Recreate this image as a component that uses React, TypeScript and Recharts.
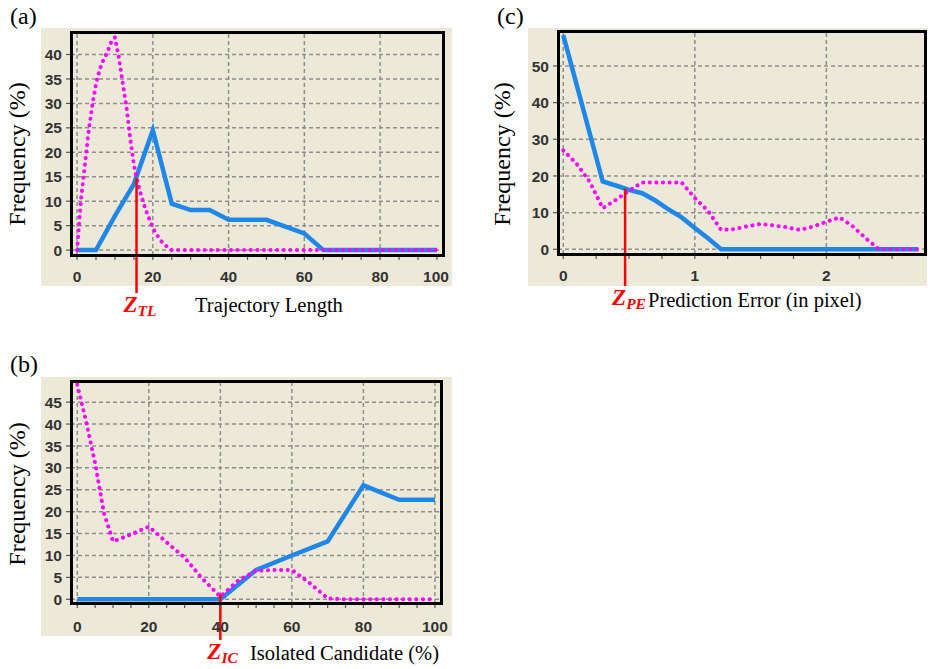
import React from "react";
import { CartesianGrid, Line, LineChart, ReferenceLine, XAxis, YAxis } from "recharts";

// (a) trajectory length
const tlBlueX = [0, 5, 10, 15, 20, 25, 30, 35, 40, 45, 50, 55, 60, 65, 70, 75, 80, 85, 90, 95];
const tlBlueY = [0, 0, 7, 13.5, 24.5, 9.5, 8.2, 8.2, 6.2, 6.2, 6.2, 4.8, 3.4, 0, 0, 0, 0, 0, 0, 0];
const tlPinkX = [0, 0.5, 1, 2, 3, 4, 5, 6, 7, 8, 9, 10, 11, 12, 13, 14, 15, 16, 17, 18, 19, 20, 22, 24, 25, 30, 35, 40, 45, 50, 55, 60, 65, 70, 75, 80, 85, 90, 95];
const tlPinkY = [0, 5, 10, 17, 24, 29.5, 34, 37, 39, 40.5, 42.5, 43.5, 39.5, 34.5, 29.5, 23, 17.5, 13.8, 11, 8.5, 6.5, 4.5, 2, 0.5, 0, 0, 0, 0, 0, 0, 0, 0, 0, 0, 0, 0, 0, 0, 0];
const tlLabelsX = [0, 20, 40, 60, 80, 100];
const tlTicksX = [0, 5, 10, 15, 20, 25, 30, 35, 40, 45, 50, 55, 60, 65, 70, 75, 80, 85, 90, 95, 100];
const tlTicksY = [0, 5, 10, 15, 20, 25, 30, 35, 40];
const tlGridX = [0, 20, 40, 60, 80];
const tlZ = { x: 15.7, top: 14.7, bottom: -8.8 };

// (b) isolated candidate
const icBlueX = [0, 10, 20, 30, 40, 50, 60, 70, 80, 90, 100];
const icBlueY = [0, 0, 0, 0, 0, 6.7, 10, 13.2, 26, 22.7, 22.7];
const icPinkX = [0, 2.5, 5, 7.5, 10, 15, 20, 25, 30, 35, 40, 45, 50, 55, 60, 65, 70, 75, 80, 85, 90, 95, 100];
const icPinkY = [49, 40.5, 31, 19.5, 13.2, 14.8, 16.6, 13, 9.5, 4.7, 0.6, 4.3, 6.5, 6.7, 6.7, 3.7, 0.2, 0, 0, 0, 0, 0, 0];
const icLabelsX = [0, 20, 40, 60, 80, 100];
const icTicksX = [0, 5, 10, 15, 20, 25, 30, 35, 40, 45, 50, 55, 60, 65, 70, 75, 80, 85, 90, 95, 100];
const icTicksY = [0, 5, 10, 15, 20, 25, 30, 35, 40, 45];
const icZ = { x: 40, top: 1, bottom: -9.3 };

// (c) prediction error
const peBlueX = [0, 0.3, 0.4, 0.5, 0.6, 0.7, 0.8, 0.9, 1.0, 1.1, 1.2, 1.3, 1.4, 1.5, 1.6, 1.7, 1.8, 1.9, 2.0, 2.1, 2.2, 2.3, 2.4, 2.5, 2.6, 2.7];
const peBlueY = [58.4, 18.5, 17.4, 16.2, 15.3, 13.3, 10.9, 8.7, 5.8, 3, 0, 0, 0, 0, 0, 0, 0, 0, 0, 0, 0, 0, 0, 0, 0, 0];
const pePinkX = [0, 0.1, 0.2, 0.3, 0.4, 0.5, 0.6, 0.7, 0.8, 0.9, 1.0, 1.1, 1.2, 1.3, 1.4, 1.5, 1.6, 1.7, 1.8, 1.9, 2.0, 2.1, 2.2, 2.3, 2.4, 2.5, 2.6, 2.7];
const pePinkY = [27, 23.4, 18.5, 11.2, 13.5, 16, 18.2, 18.2, 18.2, 18.2, 14, 10.5, 5.3, 5.5, 6.3, 6.9, 6.5, 6, 5.3, 6.2, 7.5, 8.7, 6.3, 3, 0, 0, 0, 0];
const peLabelsX = [0, 1, 2];
const peTicksX = [0, 0.25, 0.5, 0.75, 1, 1.25, 1.5, 1.75, 2, 2.25, 2.5];
const peTicksY = [0, 10, 20, 30, 40, 50];
const peZ = { x: 0.47, top: 16.5, bottom: -10 };

const SERIF = '"Liberation Serif", "Times New Roman", serif';
const SANS = '"Liberation Sans", Arial, sans-serif';
const BEIGE = "#ece9d8";
const GRID = "#8e8e8e";
const TICK_TEXT = { fontFamily: SANS, fontSize: 15.5, fontWeight: 600, fill: "#333" };

type Pt = { x: number; y: number };
const pts = (xs: number[], ys: number[]): Pt[] => xs.map((x, i) => ({ x, y: ys[i] }));

function XTick(props: any) {
  const { x, y, payload, maxX, gap, labels } = props;
  const tx = Math.min(x, maxX);
  const showLabel = labels.includes(payload.value);
  return (
    <g>
      {x <= maxX + 10 && <line x1={x} x2={x} y1={y - gap - 3} y2={y - gap + 1} stroke="#555" strokeWidth={1.2} />}
      {showLabel && (
        <text x={tx} y={y} dy="0.71em" textAnchor="middle" {...TICK_TEXT}>
          {payload.value}
        </text>
      )}
    </g>
  );
}

function YTick(props: any) {
  const { x, y, payload } = props;
  return (
    <g>
      <line x1={x + 4} x2={x + 8} y1={y} y2={y} stroke="#555" strokeWidth={1.2} />
      <text x={x} y={y} dy="0.36em" textAnchor="end" {...TICK_TEXT}>
        {payload.value}
      </text>
    </g>
  );
}

type PanelProps = {
  left: number;
  top: number;
  width: number;
  height: number;
  mTop: number;
  mRight: number;
  yWidth: number;
  xHeight: number;
  xDomain: [number, number];
  yDomain: [number, number];
  xTicks: number[];
  xLabels: number[];
  yTicks: number[];
  gridX: number[];
  blue: Pt[];
  pink: Pt[];
  z: { x: number; top: number; bottom: number };
  sub: string;
  title: string;
  titleDx: number;
  titleDy: number;
  tickGap: number;
  maxTickX: number;
  yLabelX: number;
  yLabelDy: number;
};

const bar = (left: number, top: number, width: number, height: number) => (
  <div style={{ position: "absolute", left, top, width, height, background: "#000", zIndex: 5, pointerEvents: "none" }} />
);

function Panel(p: PanelProps) {
  // black frame round the plot area, taken from the chart margins
  const x0 = p.left + p.yWidth;
  const y0 = p.top + p.mTop;
  const w = p.width - p.mRight - p.yWidth;
  const h = p.height - p.mTop - p.xHeight;
  const t = 3;
  return (
    <>
      <div style={{ position: "absolute", left: p.left, top: p.top, zIndex: 1 }}>
        <LineChart width={p.width} height={p.height} margin={{ top: p.mTop, right: p.mRight, left: 0, bottom: 0 }}>
          <CartesianGrid vertical={false} stroke={GRID} strokeDasharray="4 3" strokeWidth={1.5} />
          {p.gridX.map((v) => (
            <ReferenceLine key={v} x={v} stroke={GRID} strokeDasharray="4 3" strokeWidth={1.5} />
          ))}
          <XAxis
            dataKey="x"
            type="number"
            domain={p.xDomain}
            allowDataOverflow
            ticks={p.xTicks}
            interval={0}
            height={p.xHeight}
            tickSize={4}
            tickMargin={p.tickGap}
            tickLine={false}
            axisLine={false}
            tick={<XTick maxX={p.maxTickX} gap={p.tickGap} labels={p.xLabels} />}
            label={{
              content: (lp: any) => {
                const vb = lp.viewBox;
                return (
                  <text x={vb.x + p.titleDx} y={vb.y + p.titleDy} fontFamily={SERIF} fontSize={20.5} fill="#000">
                    {p.title}
                  </text>
                );
              },
            }}
          />
          <YAxis
            type="number"
            domain={p.yDomain}
            allowDataOverflow
            ticks={p.yTicks}
            interval={0}
            width={p.yWidth}
            tickSize={4}
            tickMargin={5}
            tickLine={false}
            axisLine={false}
            tick={<YTick />}
            label={{
              content: (lp: any) => {
                const vb = lp.viewBox;
                const cx = vb.x + p.yLabelX;
                const cy = vb.y + vb.height / 2 + p.yLabelDy;
                return (
                  <text x={cx} y={cy} transform={`rotate(-90, ${cx}, ${cy})`} textAnchor="middle" fontFamily={SERIF} fontSize={24} fill="#000">
                    Frequency (%)
                  </text>
                );
              },
            }}
          />
          <Line data={p.blue} dataKey="y" type="linear" stroke="#1f86ea" strokeWidth={4.5} dot={false} isAnimationActive={false} />
          <Line
            data={p.pink}
            dataKey="y"
            type="linear"
            stroke="#ff00ff"
            strokeWidth={4}
            strokeDasharray="0.1 6.5"
            strokeLinecap="round"
            dot={false}
            isAnimationActive={false}
          />
          <ReferenceLine
            segment={[
              { x: p.z.x, y: p.z.top },
              { x: p.z.x, y: p.z.bottom },
            ]}
            stroke="#ff0000"
            strokeWidth={2.5}
            ifOverflow="visible"
            label={{
              content: (lp: any) => {
                const vb = lp.viewBox;
                return (
                  <text x={vb.x - 13} y={vb.y + vb.height + 19} fontFamily={SERIF} fontWeight="bold" fontStyle="italic" fontSize={23} fill="#ff0000">
                    Z
                    <tspan fontSize={15.5} dy={4}>
                      {p.sub}
                    </tspan>
                  </text>
                );
              },
            }}
          />
        </LineChart>
      </div>
      {bar(x0 - 1, y0 - 2, w + 3, t)}
      {bar(x0 - 1, y0 + h - 1, w + 3, t)}
      {bar(x0 - 1, y0 - 2, t, h + 3)}
      {bar(x0 + w - 1, y0 - 2, t, h + 3)}
    </>
  );
}

const box = (left: number, top: number, width: number, height: number) => (
  <div style={{ position: "absolute", left, top, width, height, background: BEIGE, zIndex: 0 }} />
);

const letter = (text: string, left: number, baseline: number) => (
  <div style={{ position: "absolute", left, top: baseline - 20, fontFamily: SERIF, fontSize: 24, lineHeight: "24px", color: "#000" }}>
    {text}
  </div>
);

export default function App() {
  return (
    <div style={{ position: "absolute", left: 0, top: 0, width: 928, height: 669, overflow: "hidden", background: "#fff" }}>
      {box(41, 28, 411, 258)}
      {box(528, 28, 399, 258)}
      {box(41, 377, 411, 259)}
      {letter("(a)", 10, 24)}
      {letter("(c)", 497, 24)}
      {letter("(b)", 10, 372)}
      <Panel
        left={0}
        top={0}
        width={460}
        height={330}
        mTop={33}
        mRight={17}
        yWidth={71}
        xHeight={75}
        xDomain={[-1.6, 96.6]}
        yDomain={[-1, 44.4]}
        xTicks={tlTicksX}
        xLabels={tlLabelsX}
        yTicks={tlTicksY}
        gridX={tlGridX}
        blue={pts(tlBlueX, tlBlueY)}
        pink={pts(tlPinkX, tlPinkY)}
        z={tlZ}
        sub="TL"
        title="Trajectory Length"
        titleDx={124}
        titleDy={57}
        tickGap={11.5}
        maxTickX={436}
        yLabelX={25}
        yLabelDy={10}
      />
      <Panel
        left={480}
        top={0}
        width={448}
        height={330}
        mTop={32}
        mRight={3}
        yWidth={78}
        xHeight={76}
        xDomain={[-0.04, 2.75]}
        yDomain={[-1.28, 59.26]}
        xTicks={peTicksX}
        xLabels={peLabelsX}
        yTicks={peTicksY}
        gridX={peLabelsX}
        blue={pts(peBlueX, peBlueY)}
        pink={pts(pePinkX, pePinkY)}
        z={peZ}
        sub="PE"
        title="Prediction Error (in pixel)"
        titleDx={90}
        titleDy={52.7}
        tickGap={12.3}
        maxTickX={10000}
        yLabelX={30}
        yLabelDy={11}
      />
      <Panel
        left={0}
        top={350}
        width={460}
        height={319}
        mTop={32}
        mRight={19}
        yWidth={71}
        xHeight={66}
        xDomain={[-1.76, 101.7]}
        yDomain={[-0.85, 49.6]}
        xTicks={icTicksX}
        xLabels={icLabelsX}
        yTicks={icTicksY}
        gridX={icLabelsX}
        blue={pts(icBlueX, icBlueY)}
        pink={pts(icPinkX, icPinkY)}
        z={icZ}
        sub="IC"
        title="Isolated Candidate (%)"
        titleDx={179}
        titleDy={57}
        tickGap={14.3}
        maxTickX={10000}
        yLabelX={25}
        yLabelDy={1.5}
      />
    </div>
  );
}
